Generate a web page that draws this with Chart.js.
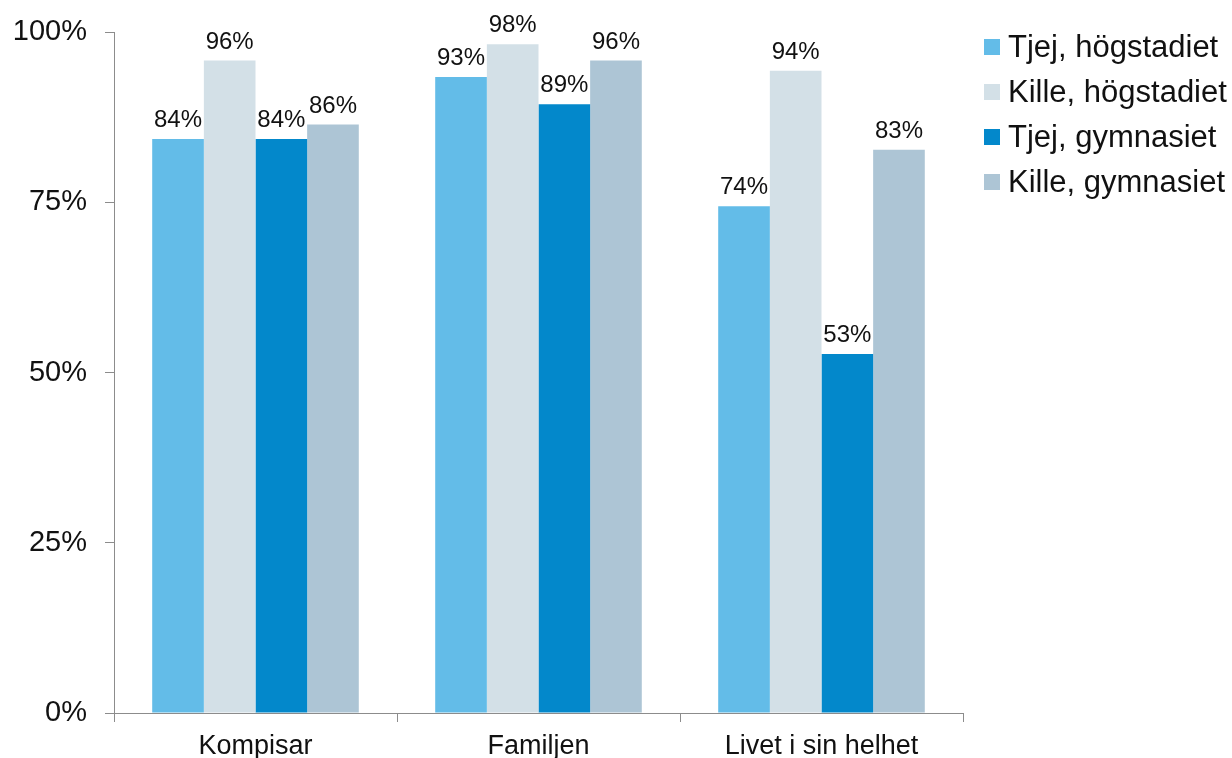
<!DOCTYPE html>
<html>
<head>
<meta charset="utf-8">
<script src="https://cdn.jsdelivr.net/npm/chart.js@4/dist/chart.umd.min.js"></script>
<style>
  html, body { margin: 0; padding: 0; background: #fff; }
  #wrap { width: 1232px; height: 758px; position: relative; }
</style>
</head>
<body>
<div id="wrap"><canvas id="myChart"></canvas></div>
<script>
// data
const categories = ['Kompisar', 'Familjen', 'Livet i sin helhet'];
const seriesNames = ['Tjej, högstadiet', 'Kille, högstadiet', 'Tjej, gymnasiet', 'Kille, gymnasiet'];
const tjejHog = [84.3, 93.4, 74.4];
const killeHog = [95.8, 98.2, 94.3];
const tjejGym = [84.3, 89.4, 52.7];
const killeGym = [86.4, 95.8, 82.7];
const yTicks = [0, 25, 50, 75, 100];

const colors = ['#63bce8', '#d3e0e7', '#0388cb', '#adc5d5'];
const FONT = '"Liberation Sans", Arial, sans-serif';
const axisGray = '#8c8c8c';

// draws the % value above each bar
const barLabels = {
  id: 'barLabels',
  afterDatasetsDraw(chart) {
    const ctx = chart.ctx;
    ctx.save();
    ctx.font = '24px ' + FONT;
    ctx.fillStyle = '#111';
    ctx.textAlign = 'center';
    ctx.textBaseline = 'alphabetic';
    chart.data.datasets.forEach((ds, i) => {
      chart.getDatasetMeta(i).data.forEach((bar, j) => {
        ctx.fillText(Math.round(ds.data[j]) + '%', bar.x, bar.y - 12);
      });
    });
    ctx.restore();
  }
};

// legend on the right, box + text
const sideLegend = {
  id: 'sideLegend',
  afterDraw(chart) {
    const ctx = chart.ctx;
    const x0 = chart.chartArea.right + 21;
    ctx.save();
    ctx.font = '31px ' + FONT;
    ctx.textBaseline = 'middle';
    ctx.textAlign = 'left';
    chart.data.datasets.forEach((ds, i) => {
      const cy = 47 + i * 45;
      ctx.fillStyle = ds.backgroundColor;
      ctx.fillRect(x0, cy - 8, 16, 16);
      ctx.fillStyle = '#111';
      ctx.fillText(ds.label, x0 + 24, cy + 1);
    });
    ctx.restore();
  }
};

const allSeries = [tjejHog, killeHog, tjejGym, killeGym];

const ctx = document.getElementById('myChart').getContext('2d');
const chart = new Chart(ctx, {
  type: 'bar',
  data: {
    labels: categories,
    datasets: allSeries.map((vals, i) => ({
      label: seriesNames[i],
      data: vals,
      backgroundColor: colors[i],
      borderWidth: 0,
      barPercentage: 1,
      categoryPercentage: 0.73
    }))
  },
  options: {
    responsive: true,
    maintainAspectRatio: false,
    animation: false,
    layout: { padding: { top: 32, right: 269, left: 0, bottom: 0 } },
    plugins: {
      legend: { display: false },
      tooltip: { enabled: false }
    },
    scales: {
      x: {
        offset: true,
        grid: {
          display: true,
          drawOnChartArea: false,
          offset: true,
          tickLength: 9,
          color: axisGray
        },
        border: { display: true, color: axisGray, width: 1 },
        ticks: {
          font: { family: FONT, size: 27 },
          color: '#111',
          padding: 8
        },
        afterFit(scale) { scale.height = 45; }
      },
      y: {
        min: 0,
        max: 100,
        afterBuildTicks(scale) { scale.ticks = yTicks.map(v => ({ value: v })); },
        grid: {
          display: true,
          drawOnChartArea: false,
          tickLength: 9,
          color: axisGray
        },
        border: { display: true, color: axisGray, width: 1 },
        ticks: {
          font: { family: FONT, size: 29 },
          color: '#111',
          padding: 18,
          callback: v => v + '%'
        },
        afterFit(scale) {
          scale.width = 114;
          scale.paddingTop = 0;
          scale.paddingBottom = 0;
        }
      }
    }
  },
  plugins: [barLabels, sideLegend]
});
</script>
</body>
</html>
